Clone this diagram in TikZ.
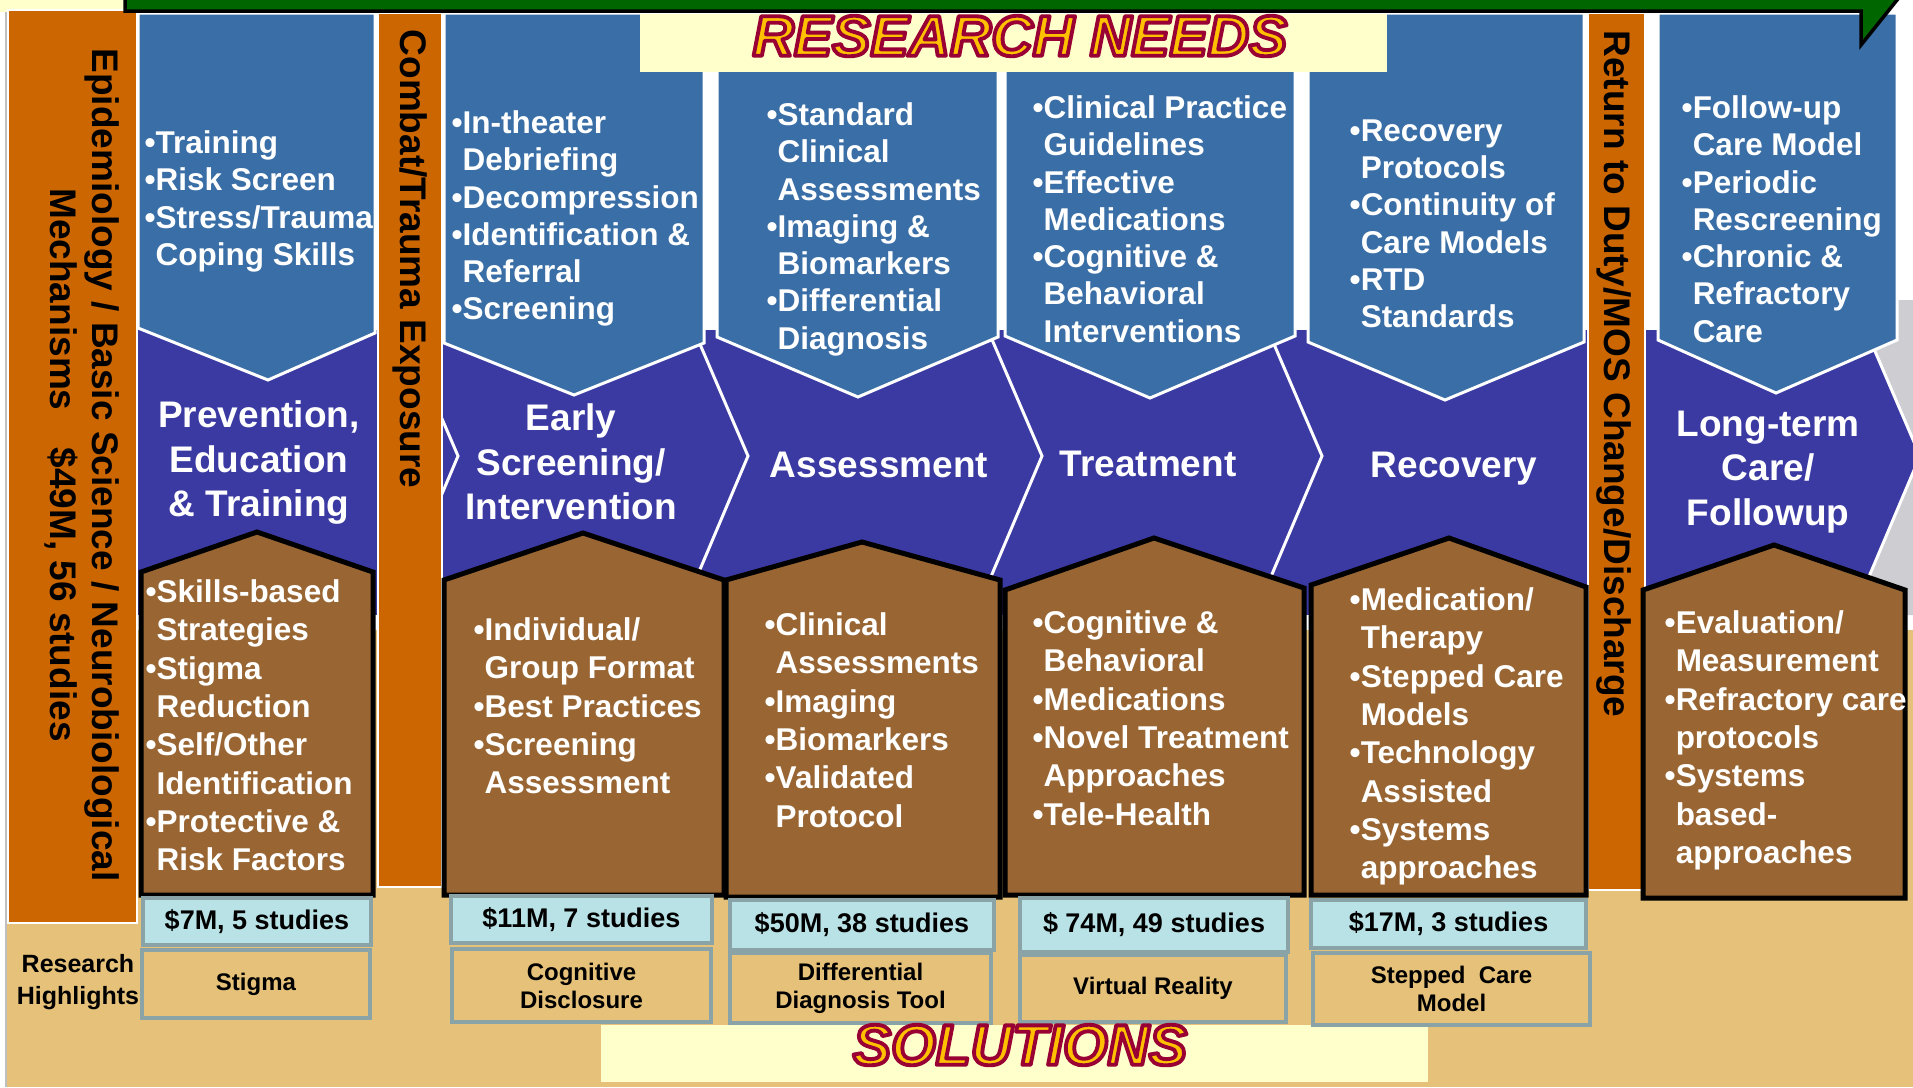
\documentclass[tikz,border=0pt]{standalone}
\usepackage{fontspec}
\setmainfont{Liberation Sans}
\usetikzlibrary{positioning}

\definecolor{needblue}{RGB}{58,110,166}
\definecolor{stageblue}{RGB}{59,58,163}
\definecolor{solbrown}{RGB}{153,102,51}
\definecolor{barorange}{RGB}{204,102,0}
\definecolor{tanbg}{RGB}{229,193,121}
\definecolor{fundcyan}{RGB}{185,226,230}
\definecolor{boxrim}{RGB}{138,163,166}
\definecolor{bannery}{RGB}{255,255,204}
\definecolor{arrowgreen}{RGB}{0,102,0}
\definecolor{resgold}{RGB}{255,192,0}
\definecolor{tipgray}{RGB}{205,205,210}

\newcommand{\needfont}{\fontsize{8.96}{10.61}\selectfont\bfseries}
\newcommand{\solfont}{\fontsize{8.96}{10.9}\selectfont\bfseries}
\newcommand{\stagefont}{\fontsize{10.53}{12.66}\selectfont\bfseries}
\newcommand{\barfont}{\fontsize{10.53}{11.95}\selectfont\bfseries}
\newcommand{\fundfont}{\fontsize{7.68}{9}\selectfont\bfseries}
\newcommand{\hlfont}{\fontsize{6.83}{7.97}\selectfont\bfseries}
\newcommand{\rhfont}{\fontsize{7.11}{9.1}\selectfont\bfseries}
\newcommand{\bannerfont}{\fontsize{16.3}{18}\selectfont\bfseries\itshape}
\newcommand{\indt}{\hphantom{•}}
% gold letters with a dark red rim (fill and stroke text mode)
\newcommand{\rimtext}[1]{\special{pdf:literal direct 0.6 0 0.2 RG 1.1 w 1 j 2 Tr}#1\special{pdf:literal direct 0 Tr}}

\begin{document}
\begin{tikzpicture}[x=0.1mm, y=-0.1mm,
    needpanel/.style={fill=needblue, draw=white, line width=0.3mm},
    solhouse/.style={fill=solbrown, draw=black, line width=0.5mm},
    stagebar/.style={fill=barorange, draw=white, line width=0.2mm},
    chevline/.style={draw=white, line width=0.3mm},
    needtext/.style={anchor=north west, align=left, text=white, font=\needfont, inner sep=0pt},
    soltext/.style={anchor=north west, align=left, text=white, font=\solfont, inner sep=0pt},
    stagetitle/.style={anchor=north, align=center, text=white, font=\stagefont, inner sep=0pt},
    bartext/.style={rotate=-90, align=center, font=\barfont, inner sep=0pt},
    fundbox/.style={fill=fundcyan, draw=boxrim, line width=0.4mm, font=\fundfont, inner sep=0pt},
    hlbox/.style={fill=tanbg, draw=boxrim, line width=0.4mm, align=center, font=\hlfont, inner sep=0pt},
    bannertext/.style={text=resgold, font=\bannerfont, inner sep=0pt}]

    % Background
    \useasboundingbox (0,0) rectangle (1913,1087);
    \clip (0,0) rectangle (1913,1087);
    \fill[tanbg] (0,0) rectangle (1913,1087);
    \fill[white] (0,0) rectangle (1913,630);
    \fill[white] (0,0) rectangle (6,1087);
    \draw[black!25, line width=0.15mm] (6,0) -- (6,1087);
    \fill[bannery] (0,0) rectangle (125,12);

    % Stage band with chevrons
    \fill[stageblue] (138,330) rectangle (1913,615);
    \fill[tipgray] (1853,300) -- (1920,456) -- (1854,615) -- (1913,615) -- (1913,300) -- cycle;
    \draw[chevline] (391,300) -- (458,456) -- (392,612);
    \draw[chevline] (681,300) -- (748,456) -- (682,612);
    \draw[chevline] (975,300) -- (1042,456) -- (976,612);
    \draw[chevline] (1255,300) -- (1322,456) -- (1256,612);
    \draw[chevline] (1853,300) -- (1920,456) -- (1854,612);

    % Research need panels
    \draw[needpanel] (138,13) -- (375,13) -- (375,333) -- (268,380) -- (138,328) -- cycle;
    \draw[needpanel] (444,13) -- (704,13) -- (704,343) -- (574,395) -- (444,343) -- cycle;
    \draw[needpanel] (717,13) -- (998,13) -- (998,337) -- (858,397) -- (717,337) -- cycle;
    \draw[needpanel] (1005,13) -- (1295,13) -- (1295,336) -- (1150,398) -- (1005,336) -- cycle;
    \draw[needpanel] (1308,13) -- (1584,13) -- (1584,342) -- (1445,400) -- (1308,342) -- cycle;
    \draw[needpanel] (1658,13) -- (1897,13) -- (1897,340) -- (1776,393) -- (1658,340) -- cycle;

    % Orange bars
    \draw[stagebar] (8,10) rectangle (137,923);
    \draw[stagebar] (378,13) rectangle (442,887);
    \draw[stagebar] (1588,13) rectangle (1645,890);
    \node[bartext] (epi) at (82,465) {Epidemiology / Basic Science / Neurobiological\\Mechanisms\quad\$49M, 56 studies};
    \node[bartext] (combat) at (410,259) {Combat/Trauma Exposure};
    \node[bartext] (rtd) at (1614,374) {Return to Duty/MOS Change/Discharge};

    % Solution houses
    \draw[solhouse] (141,895) -- (141,572) -- (257,532) -- (373,572) -- (373,895) -- cycle;
    \draw[solhouse] (444,895) -- (444,580) -- (583,533) -- (724,580) -- (724,895) -- cycle;
    \draw[solhouse] (726,897) -- (726,580) -- (862,542) -- (1000,580) -- (1000,897) -- cycle;
    \draw[solhouse] (1005,895) -- (1005,590) -- (1154,538) -- (1304,588) -- (1304,895) -- cycle;
    \draw[solhouse] (1311,895) -- (1311,585) -- (1449,538) -- (1586,587) -- (1586,895) -- cycle;
    \draw[solhouse] (1643,898) -- (1643,590) -- (1774,545) -- (1905,590) -- (1905,898) -- cycle;

    % Green arrow
    \fill[arrowgreen] (125,-20) -- (125,11) -- (1861,11) -- (1861,45) -- (1905,-10) -- (1905,-20) -- cycle;
    \draw[black, line width=0.35mm] (125,-20) -- (125,11) -- (1861,11) -- (1861,45) -- (1905,-10);

    % Banners
    \fill[bannery] (640,14) rectangle (1387,72);
    \node[bannertext] (needs) at (1020,36) {\rimtext{RESEARCH NEEDS}};
    \fill[bannery] (601,1025) rectangle (1428,1082);

    % Needs
    \node[needtext] (need1) at (144,130) {•Training\\•Risk Screen\\•Stress/Trauma\\\indt Coping Skills};
    \node[needtext] (need2) at (451,110) {•In-theater\\\indt Debriefing\\•Decompression\\•Identification \&\\\indt Referral\\•Screening};
    \node[needtext] (need3) at (766,102) {•Standard\\\indt Clinical\\\indt Assessments\\•Imaging \&\\\indt Biomarkers\\•Differential\\\indt Diagnosis};
    \node[needtext] (need4) at (1032,95) {•Clinical Practice\\\indt Guidelines\\•Effective\\\indt Medications\\•Cognitive \&\\\indt Behavioral\\\indt Interventions};
    \node[needtext] (need5) at (1349,119) {•Recovery\\\indt Protocols\\•Continuity of\\\indt Care Models\\•RTD\\\indt Standards};
    \node[needtext] (need6) at (1681,95) {•Follow-up\\\indt Care Model\\•Periodic\\\indt Rescreening\\•Chronic \&\\\indt Refractory\\\indt Care};

    % Stages
    \node[stagetitle] (stage1) at (259,400) {Prevention,\\Education\\\& Training};
    \node[stagetitle] (stage2) at (571,403) {Early\\Screening/\\Intervention};
    \node[stagetitle] (stage3) at (879,451) {Assessment};
    \node[stagetitle] (stage4) at (1148,450) {Treatment};
    \node[stagetitle] (stage5) at (1454,451) {Recovery};
    \node[stagetitle] (stage6) at (1768,410) {Long-term\\Care/\\Followup};

    % Solutions
    \node[soltext] (sol1) at (145,579) {•Skills-based\\\indt Strategies\\•Stigma\\\indt Reduction\\•Self/Other\\\indt Identification\\•Protective \&\\\indt Risk Factors};
    \node[soltext] (sol2) at (473,617) {•Individual/\\\indt Group Format\\•Best Practices\\•Screening\\\indt Assessment};
    \node[soltext] (sol3) at (764,612) {•Clinical\\\indt Assessments\\•Imaging\\•Biomarkers\\•Validated\\\indt Protocol};
    \node[soltext] (sol4) at (1032,610) {•Cognitive \&\\\indt Behavioral\\•Medications\\•Novel Treatment\\\indt Approaches\\•Tele-Health};
    \node[soltext] (sol5) at (1349,587) {•Medication/\\\indt Therapy\\•Stepped Care\\\indt Models\\•Technology\\\indt Assisted\\•Systems\\\indt approaches};
    \node[soltext] (sol6) at (1664,610) {•Evaluation/\\\indt Measurement\\•Refractory care\\\indt protocols\\•Systems\\\indt based-\\\indt approaches};

    % Funding
    \node[fundbox, minimum width=22.8mm, minimum height=4.7mm] (fund1) at (257,921.5) {\$7M, 5 studies};
    \node[fundbox, minimum width=26.1mm, minimum height=4.7mm] (fund2) at (581.5,919.5) {\$11M, 7 studies};
    \node[fundbox, minimum width=26.4mm, minimum height=5.0mm] (fund3) at (862,925) {\$50M, 38 studies};
    \node[fundbox, minimum width=26.8mm, minimum height=5.4mm] (fund4) at (1154,925) {\$ 74M, 49 studies};
    \node[fundbox, minimum width=27.5mm, minimum height=4.8mm] (fund5) at (1448.5,924) {\$17M, 3 studies};

    % Research highlights
    \node[font=\rhfont, align=center, inner sep=0pt] (highlights) at (78,982) {Research\\Highlights};
    \node[hlbox, minimum width=22.8mm, minimum height=6.8mm] (high1) at (256,984) {Stigma};
    \node[hlbox, minimum width=25.9mm, minimum height=7.3mm] (high2) at (581.5,985.5) {Cognitive\\Disclosure};
    \node[hlbox, minimum width=26.1mm, minimum height=7.0mm] (high3) at (860.5,988) {Differential\\Diagnosis Tool};
    \node[hlbox, minimum width=26.6mm, minimum height=6.7mm] (high4) at (1153,988.5) {Virtual Reality};
    \node[hlbox, minimum width=27.7mm, minimum height=7.2mm] (high5) at (1451.5,989) {Stepped\ \ Care\\Model};

    \node[bannertext] (solutions) at (1020,1045) {\rimtext{SOLUTIONS}};

\end{tikzpicture}
\end{document}
